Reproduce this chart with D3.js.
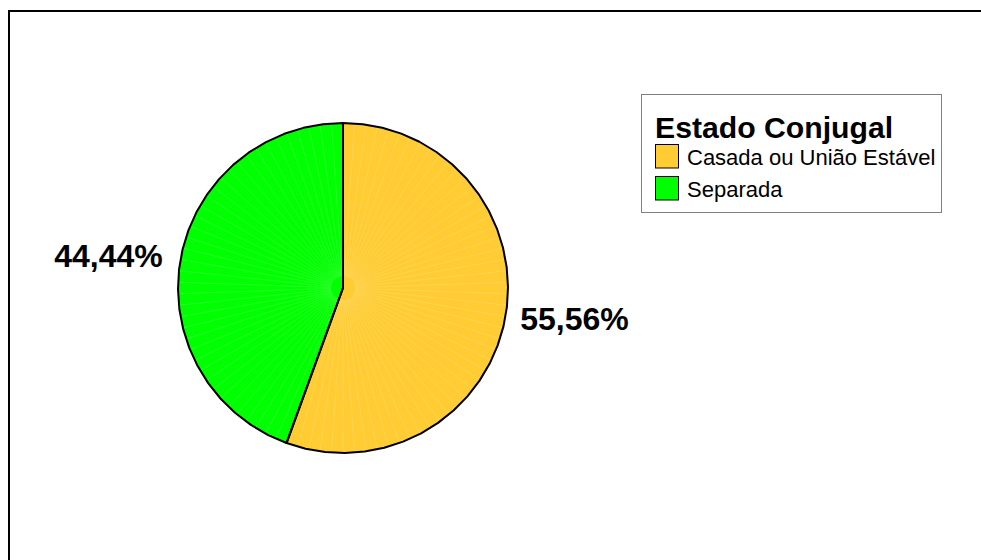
<!DOCTYPE html>
<html>
<head>
<meta charset="utf-8">
<script src="https://cdn.jsdelivr.net/npm/d3@7"></script>
<style>
  html, body { margin: 0; padding: 0; background: #fff; }
  svg { display: block; font-family: "Liberation Sans", Arial, sans-serif; }
</style>
</head>
<body>
<svg id="chart" width="981" height="560"></svg>
<script>
// ---- Data ----
const categories = ["Casada ou União Estável", "Separada"];
const values = [55.56, 44.44];
const valueLabels = ["55,56%", "44,44%"];
const colors = ["#FFCC33", "#00FF00"];
const legendTitle = "Estado Conjugal";

const svg = d3.select("#chart");
const W = 981, H = 560;

// frame (top and left edges visible)
svg.append("line").attr("x1", 8).attr("x2", W).attr("y1", 11).attr("y2", 11)
  .attr("stroke", "#000").attr("stroke-width", 2);
svg.append("line").attr("x1", 9).attr("x2", 9).attr("y1", 10).attr("y2", H)
  .attr("stroke", "#000").attr("stroke-width", 2);

// ---- Pie ----
const cx = 343, cy = 288, R = 165;
const pie = d3.pie().sort(null).value(d => d)(values);
const g = svg.append("g").attr("transform", `translate(${cx},${cy})`);

const step = 7 * Math.PI / 180;
function polyPath(a0, a1, r) {
  const pts = [[0, 0]];
  const n = Math.max(1, Math.ceil((a1 - a0) / step));
  for (let i = 0; i <= n; i++) {
    const a = a0 + (a1 - a0) * i / n;
    pts.push([r * Math.sin(a), -r * Math.cos(a)]);
  }
  return d3.line()(pts) + "Z";
}

pie.forEach((d, i) => {
  g.append("path").attr("d", polyPath(d.startAngle, d.endAngle, R))
    .attr("fill", colors[i]).attr("stroke", "none");
  // faint radial shading lines
  const nLines = Math.round((d.endAngle - d.startAngle) / (4 * Math.PI / 180));
  for (let k = 1; k < nLines; k++) {
    const a = d.startAngle + (d.endAngle - d.startAngle) * k / nLines;
    g.append("line")
      .attr("x1", 12 * Math.sin(a)).attr("y1", -12 * Math.cos(a))
      .attr("x2", (R - 1) * Math.sin(a)).attr("y2", -(R - 1) * Math.cos(a))
      .attr("stroke", "#fff").attr("stroke-opacity", 0.25).attr("stroke-width", 0.6);
  }
});
// outline
pie.forEach((d, i) => {
  g.append("path").attr("d", polyPath(d.startAngle, d.endAngle, R))
    .attr("fill", "none").attr("stroke", "#000").attr("stroke-width", 2)
    .attr("stroke-linejoin", "round");
});

// value labels
pie.forEach((d, i) => {
  const a = (d.startAngle + d.endAngle) / 2;
  const rl = 180;
  const x = rl * Math.sin(a), y = -rl * Math.cos(a);
  g.append("text")
    .attr("x", x > 0 ? x : x - 3).attr("y", y + 2)
    .attr("text-anchor", x > 0 ? "start" : "end")
    .attr("dominant-baseline", "middle")
    .attr("font-size", 32).attr("font-weight", "bold").attr("fill", "#000")
    .text(valueLabels[i]);
});

// ---- Legend ----
const lg = svg.append("g");
lg.append("rect").attr("x", 641.5).attr("y", 94.5).attr("width", 300).attr("height", 118)
  .attr("fill", "#fff").attr("stroke", "#808080").attr("stroke-width", 1);
lg.append("text").attr("x", 655).attr("y", 137.5).attr("font-size", 30.2)
  .attr("font-weight", "bold").attr("fill", "#000").text(legendTitle);
categories.forEach((c, i) => {
  const y0 = 144.5 + i * 32;
  lg.append("rect").attr("x", 655.5).attr("y", y0).attr("width", 23).attr("height", 23.5)
    .attr("fill", colors[i]).attr("stroke", "#000").attr("stroke-width", 1);
  lg.append("text").attr("x", 687).attr("y", y0 + 20.5).attr("font-size", 22)
    .attr("fill", "#000").text(c);
});
</script>
</body>
</html>
